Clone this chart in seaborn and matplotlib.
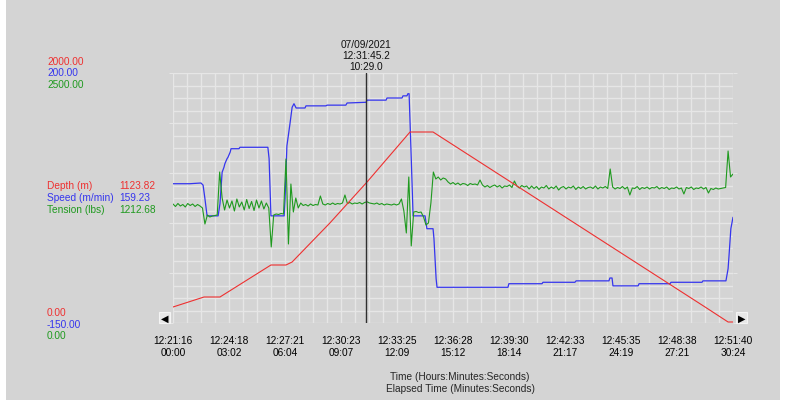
import numpy as np
import pandas as pd
import matplotlib
matplotlib.use("Agg")
import matplotlib.pyplot as plt
import seaborn as sns
from matplotlib.patches import Rectangle

# ---- data (time in seconds since 12:21:16) ----
depth_t = [0, 101, 153, 319, 368, 388, 511, 632, 772, 847, 1733, 1808, 1824]
depth_m = [128, 208, 208, 464, 464, 488, 800, 1128, 1528, 1528, 128, 8, 8]

speed_t = [0, 55, 91, 98, 104, 111, 147, 153, 160, 166, 169, 176, 179, 186, 189,
           215, 218, 309, 313, 319, 362, 365, 371, 381, 388, 394, 401, 430, 433,
           498, 502, 563, 567, 629, 632, 694, 697, 746, 749, 762, 765, 769, 775,
           782, 821, 827, 847, 850, 857, 860, 1091, 1094, 1202, 1205, 1309, 1313,
           1420, 1423, 1430, 1433, 1515, 1518, 1619, 1622, 1723, 1726, 1801, 1808,
           1811, 1817, 1824]
speed_mmin = [45, 45, 46, 43, 24, 0, 0, 17, 61, 68, 73, 80, 82, 89, 94,
              94, 96, 96, 80, 0, 0, 24, 98, 129, 152, 157, 151, 151, 154,
              154, 155, 155, 158, 159, 162, 162, 165, 165, 168, 168, 171, 171, 94,
              0, 0, -18, -18, -32, -88, -100, -100, -95, -95, -93, -93, -91,
              -91, -87, -87, -98, -98, -95, -95, -93, -93, -91, -91, -74,
              -56, -18, -2]

# tension sampled every 8 s
tension_step = 8
tension_lbs = [
    1190, 1165, 1195, 1170, 1185, 1160, 1195, 1175, 1190, 1165, 1185, 1170,
    1150, 990, 1080, 1060, 1070, 1075, 1080, 1510, 1250,
    1130, 1230, 1150, 1220, 1120, 1240, 1160, 1210, 1130, 1235, 1145, 1215,
    1125, 1230, 1150, 1220, 1140, 1200,
    1150, 760, 1080, 1090, 1085, 1095, 1090, 1640, 790, 1390, 1110, 1250, 1150, 1200,
    1175, 1185, 1170, 1190, 1175, 1185, 1180, 1270, 1190, 1180,
    1195, 1185, 1200, 1185, 1195, 1190, 1200, 1280, 1195, 1205,
    1190, 1200, 1195, 1205, 1190, 1205, 1212, 1200, 1195, 1190,
    1200, 1185, 1195, 1180, 1190, 1185, 1180, 1190, 1180, 1190,
    1240, 1120, 900, 1460, 770, 1110, 1115, 1105, 1110, 1060, 980, 1000, 1200,
    1510, 1440, 1460, 1430, 1450, 1440,
    1410, 1390, 1405, 1385, 1400, 1380, 1395, 1390, 1375, 1395, 1385, 1390, 1380,
    1430,
    1380, 1360, 1375, 1355, 1370, 1380, 1360, 1375, 1350, 1370, 1365, 1380,
    1355, 1420, 1370, 1350, 1375, 1360, 1370,
    1340, 1370, 1345, 1365, 1335, 1360, 1350, 1375, 1340, 1360, 1345,
    1370, 1330, 1355, 1365, 1340, 1360, 1350, 1370, 1335, 1360, 1345,
    1365, 1340, 1355, 1360, 1345, 1370, 1340, 1360, 1350, 1365, 1345,
    1540,
    1360, 1340, 1355, 1345, 1365, 1340, 1360, 1280, 1350, 1345, 1365, 1335,
    1355, 1345, 1360, 1340, 1355, 1350, 1365, 1340, 1355, 1345, 1360, 1335,
    1350, 1345, 1360, 1340, 1350, 1290, 1355, 1345, 1360, 1335, 1350, 1345,
    1360, 1340, 1355, 1300, 1345, 1335, 1350, 1340, 1345, 1350, 1355,
    1720, 1460, 1490]

clock_labels = ["12:21:16", "12:24:18", "12:27:21", "12:30:23", "12:33:25", "12:36:28",
                "12:39:30", "12:42:33", "12:45:35", "12:48:38", "12:51:40"]
elapsed_labels = ["00:00", "03:02", "06:04", "09:07", "12:09", "15:12",
                  "18:14", "21:17", "24:19", "27:21", "30:24"]

cursor_t = 629
cursor_date = "07/09/2021"
cursor_clock = "12:31:45.2"
cursor_elapsed = "10:29.0"
readout_names = ["Depth (m)", "Speed (m/min)", "Tension (lbs)"]
readout_values = ["1123.82", "159.23", "1212.68"]
axis_max = ["2000.00", "200.00", "2500.00"]
axis_min = ["0.00", "-150.00", "0.00"]

total_t = 1824
red, blue, green = "#ee3030", "#3535ee", "#1f9a1f"
bg = "#d4d4d4"
gridc = "#e6e6e6"

sns.set_style("white")
plt.rcParams["font.family"] = ["Liberation Sans", "DejaVu Sans"]

df_d = pd.DataFrame({"t": depth_t, "v": depth_m})
df_s = pd.DataFrame({"t": speed_t, "v": speed_mmin})
df_T = pd.DataFrame({"t": np.arange(len(tension_lbs)) * tension_step, "v": tension_lbs})

W, H = 785, 414
fig = plt.figure(figsize=(W / 100, H / 100), dpi=100, facecolor="white")
fig.patches.append(Rectangle((6 / W, 1 - 401 / H), 774 / W, 401 / H,
                             transform=fig.transFigure, facecolor=bg, edgecolor="none", zorder=-5))

L, R, T, B = 173, 733, 74, 324
ax = fig.add_axes([L / W, 1 - B / H, (R - L) / W, (B - T) / H])
ax.set_facecolor(bg)
ax_s = ax.twinx()   # speed
ax_T = ax.twinx()   # tension
ax_d = ax.twinx()   # depth, on top

ax.set_xlim(0, total_t)
ax.set_ylim(0, 2000)
ax_s.set_ylim(-150, 200)
ax_T.set_ylim(0, 2500)
ax_d.set_ylim(0, 2000)

step = total_t / 10
ax.set_xticks([i * step for i in range(11)])
ax.set_xticklabels([c + "\n" + e for c, e in zip(clock_labels, elapsed_labels)],
                   fontsize=7.3, linespacing=1.25)
ax.set_xticks([i * step / 4 for i in range(41)], minor=True)
ax.set_yticks(range(0, 2001, 400))
ax.set_yticks(range(0, 2001, 100), minor=True)
ax.set_yticklabels([])
ax.tick_params(axis="x", which="major", length=3, color=gridc, pad=6, labelcolor="black")
ax.tick_params(axis="x", which="minor", length=0)
ax.tick_params(axis="y", which="major", length=3, color=gridc, left=True, right=True)
ax.tick_params(axis="y", which="minor", length=0)
ax.grid(True, which="both", color=gridc, lw=1)
ax.set_axisbelow(True)
for a in (ax, ax_s, ax_T, ax_d):
    for sp in a.spines.values():
        sp.set_visible(False)
for a in (ax_s, ax_T, ax_d):
    a.set_yticks([])

sns.lineplot(data=df_s, x="t", y="v", ax=ax_s, color=blue, lw=0.9)
sns.lineplot(data=df_T, x="t", y="v", ax=ax_T, color=green, lw=0.8)
sns.lineplot(data=df_d, x="t", y="v", ax=ax_d, color=red, lw=0.8)
ax_d.axvline(cursor_t, color="#303030", lw=1)
for a in (ax, ax_s, ax_T, ax_d):
    a.set_xlabel("")
    a.set_ylabel("")
ax.set_xlim(0, total_t)

# cursor text
cx = ax.transData.transform((cursor_t, 0))[0] / W
for k, s in enumerate([cursor_date, cursor_clock, cursor_elapsed]):
    fig.text(cx, 1 - (45 + 11 * k) / H, s, ha="center", va="center", fontsize=7.3, color="#111111")

# left scale labels and readout
cols = [red, blue, green]
for k in range(3):
    fig.text(47 / W, 1 - (62 + 11.5 * k) / H, axis_max[k], color=cols[k], fontsize=7.3, va="center")
    fig.text(47 / W, 1 - (186 + 12 * k) / H, readout_names[k], color=cols[k], fontsize=7.3, va="center")
    fig.text(119 / W, 1 - (186 + 12 * k) / H, readout_values[k], color=cols[k], fontsize=7.3, va="center")
    fig.text(47 / W, 1 - (313 + 11.5 * k) / H, axis_min[k], color=cols[k], fontsize=7.3, va="center")

# scroll buttons
for x0, glyph in [(159, "\u25c0"), (736, "\u25b6")]:
    fig.patches.append(Rectangle((x0 / W, 1 - 324 / H), 11 / W, 11 / H, transform=fig.transFigure,
                                 facecolor="#e8e8e8", edgecolor="#f4f4f4", lw=0.8, zorder=3))
    fig.text((x0 + 5.5) / W, 1 - 318.5 / H, glyph, ha="center", va="center", fontsize=7,
             color="black", family=["DejaVu Sans"], zorder=4)

xm = 460 / W
fig.text(xm, 1 - 377 / H, "Time (Hours:Minutes:Seconds)", ha="center", va="center", fontsize=7.3)
fig.text(xm, 1 - 389 / H, "Elapsed Time (Minutes:Seconds)", ha="center", va="center", fontsize=7.3)

fig.savefig("out.png", dpi=100, facecolor="white")
